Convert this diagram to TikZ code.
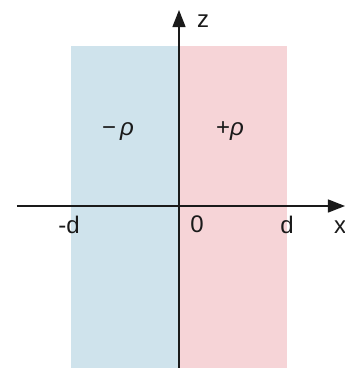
\documentclass[tikz,border=0pt]{standalone}
\usepackage{fontspec}
\setmainfont{Liberation Sans}
\usetikzlibrary{arrows.meta}
\definecolor{ink}{HTML}{1A1A1A}
\definecolor{slabneg}{HTML}{CFE3EC}
\definecolor{slabpos}{HTML}{F6D4D7}

\begin{document}
\begin{tikzpicture}[x=1pt,y=-1pt,font=\fontsize{24}{26}\selectfont,
  axis/.style={ink,line width=1.4pt,-{Triangle[width=13pt,length=17pt]}},
  lbl/.style={inner sep=0pt,text=ink,anchor=base}]
 \useasboundingbox (0,0) rectangle (345,368);
 \def\xo{179}
 \def\zo{206}
 \def\slab{108}
 % the two charged slabs
 \fill[slabneg] ({\xo-\slab},46) rectangle (\xo,368);
 \fill[slabpos] (\xo,46) rectangle ({\xo+\slab},368);
 % axes
 \coordinate (xl) at (17,\zo);
 \coordinate (xr) at (345,\zo);
 \coordinate (zb) at (\xo,368);
 \coordinate (zt) at (\xo,10);
 \draw[axis] (xl) -- (xr);
 \draw[axis] (zb) -- (zt);
 \node[lbl] (zlab) at (203,27) {z};
 \node[lbl,anchor=base west] (xlab) at (334,233) {x};
 % ticks and charges
 \node[lbl] (mind) at (69,233) {-d};
 \node[lbl] (orig) at (197,232) {0};
 \node[lbl] (plsd) at (287,233) {d};
 \node[lbl] (rhon) at (118,135) {−\,\itshape ρ};
 \node[lbl] (rhop) at (230,135) {+\itshape ρ};
\end{tikzpicture}
\end{document}
